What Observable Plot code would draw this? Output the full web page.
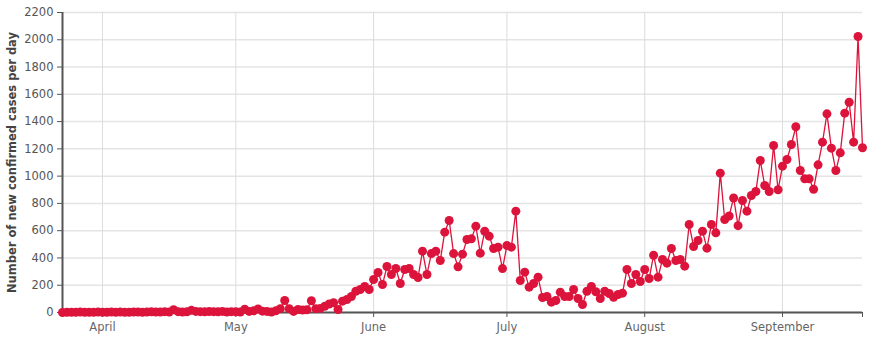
<!DOCTYPE html>
<html>
<head>
<meta charset="utf-8">
<script src="https://cdn.jsdelivr.net/npm/d3@7"></script>
<script src="https://cdn.jsdelivr.net/npm/@observablehq/plot@0.6"></script>
<style>
  html, body { margin: 0; padding: 0; background: #fff; }
  #chart svg { display: block; }
</style>
</head>
<body>
<div id="chart"></div>
<script>
// First and last reported day
const startDate = new Date(Date.UTC(2020, 2, 23));
const endDate = new Date(Date.UTC(2020, 8, 19));

// Daily new confirmed cases, one per day from startDate to endDate
const newCases = [
  0, 1, 2, 1, 3, 2, 1, 2, 3, 1,
  2, 4, 2, 3, 2, 1, 3, 4, 2, 3,
  5, 4, 3, 6, 4, 20, 6, 4, 5, 16,
  8, 6, 5, 7, 6, 5, 8, 4, 6, 5,
  3, 24, 8, 12, 26, 10, 8, 4, 12, 28,
  88, 28, 8, 22, 18, 20, 86, 28, 30, 45,
  62, 72, 22, 83, 95, 117, 156, 169, 191, 169,
  242, 293, 205, 337, 279, 323, 213, 315, 323, 279,
  257, 450, 279, 432, 450, 381, 589, 675, 432, 335,
  428, 535, 540, 633, 435, 596, 560, 469, 479, 322,
  491, 479, 743, 235, 296, 186, 213, 259, 110, 117,
  76, 88, 149, 117, 117, 169, 103, 59, 156, 191,
  152, 103, 156, 139, 112, 132, 142, 315, 213, 279,
  227, 315, 249, 420, 259, 389, 362, 469, 381, 389,
  340, 645, 484, 528, 596, 472, 645, 584, 1022, 682,
  708, 840, 637, 821, 743, 858, 887, 1115, 931, 887,
  1225, 900, 1073, 1122, 1232, 1362, 1041, 980, 980, 904,
  1083, 1249, 1457, 1205, 1041, 1171, 1462, 1542, 1249, 2024,
  1208
];

const yTicks = [0, 200, 400, 600, 800, 1000, 1200, 1400, 1600, 1800, 2000, 2200];
const monthTicks = [
  new Date(Date.UTC(2020, 3, 1)),
  new Date(Date.UTC(2020, 4, 1)),
  new Date(Date.UTC(2020, 5, 1)),
  new Date(Date.UTC(2020, 6, 1)),
  new Date(Date.UTC(2020, 7, 1)),
  new Date(Date.UTC(2020, 8, 1))
];
const monthLabels = ["April", "May", "June", "July", "August", "September"];
const yLabel = "Number of new confirmed cases per day";

const days = d3.utcDay.range(startDate, d3.utcDay.offset(endDate, 1));
const data = days.map((d, i) => ({date: d, cases: newCases[i]}));

const color = "#dc143c";
const axisColor = "#555";

const chart = Plot.plot({
  width: 871,
  height: 339,
  marginLeft: 62,
  marginRight: 9,
  marginTop: 12,
  marginBottom: 27,
  style: {fontFamily: "DejaVu Sans, sans-serif", fontSize: "12px", background: "#fff"},
  x: {type: "utc", domain: [startDate, endDate]},
  y: {domain: [0, 2200]},
  marks: [
    Plot.gridY(yTicks, {stroke: "#e4e4e4", strokeOpacity: 1, strokeWidth: 1.5}),
    Plot.gridX(monthTicks, {stroke: "#dcdcdc", strokeOpacity: 1, strokeWidth: 1}),
    Plot.axisY(yTicks, {tickSize: 5, tickPadding: 4, tickFormat: (d) => String(d), stroke: axisColor, fill: "#555", label: null, fontSize: 11.5}),
    Plot.axisX(monthTicks, {tickSize: 5, tickPadding: 5, tickFormat: (d) => monthLabels[monthTicks.findIndex(m => +m === +d)], stroke: axisColor, fill: "#666", label: null, fontSize: 11.5}),
    Plot.axisX([startDate, endDate], {tickSize: 5, tickFormat: () => "", stroke: axisColor, label: null}),
    Plot.ruleX([startDate], {stroke: axisColor, strokeWidth: 2, y1: 0, y2: 2200}),
    Plot.ruleY([0], {stroke: axisColor, strokeWidth: 2}),
    Plot.line(data, {x: "date", y: "cases", stroke: color, strokeWidth: 1.3}),
    Plot.dot(data, {x: "date", y: "cases", r: 4.5, fill: color, stroke: "none"}),
    Plot.text([yLabel], {frameAnchor: "left", textAnchor: "middle", lineAnchor: "middle", rotate: -90, dx: -50, fontWeight: "bold", fill: "#444", fontSize: 11.5})
  ]
});

document.getElementById("chart").appendChild(chart);
</script>
</body>
</html>
